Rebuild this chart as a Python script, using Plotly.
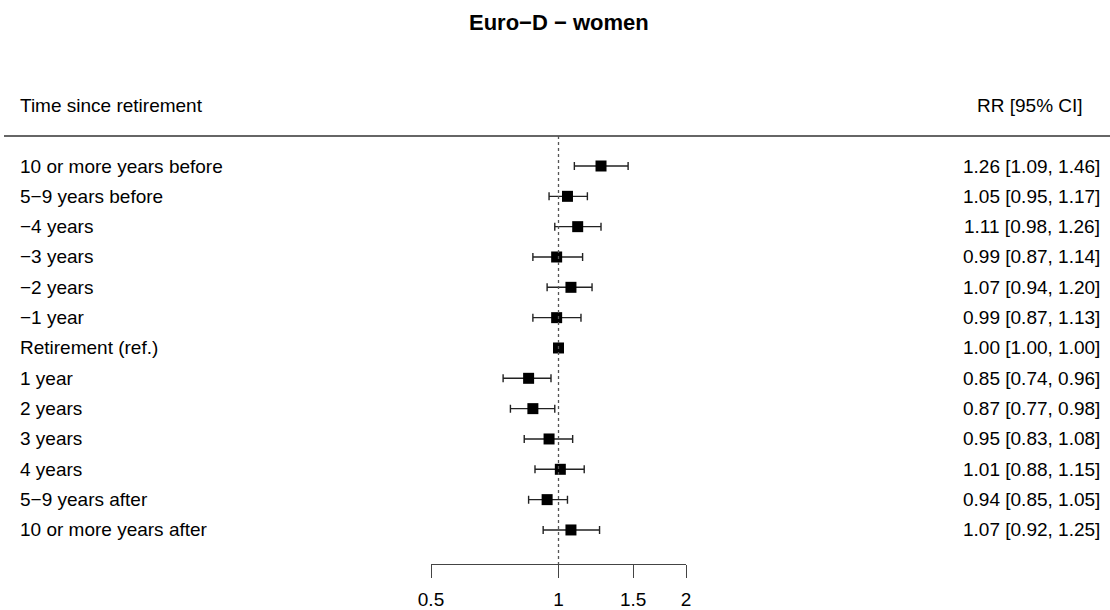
import math
import plotly.graph_objects as go

labels = ["10 or more years before", "5\u22129 years before", "\u22124 years", "\u22123 years",
          "\u22122 years", "\u22121 year", "Retirement (ref.)", "1 year", "2 years", "3 years",
          "4 years", "5\u22129 years after", "10 or more years after"]
rr = [1.26, 1.05, 1.11, 0.99, 1.07, 0.99, 1.00, 0.85, 0.87, 0.95, 1.01, 0.94, 1.07]
ci_lo = [1.09, 0.95, 0.98, 0.87, 0.94, 0.87, 1.00, 0.74, 0.77, 0.83, 0.88, 0.85, 0.92]
ci_hi = [1.46, 1.17, 1.26, 1.14, 1.20, 1.13, 1.00, 0.96, 0.98, 1.08, 1.15, 1.05, 1.25]
tick_vals = [0.5, 1, 1.5, 2]
tick_text = ["0.5", "1", "1.5", "2"]

W, H = 1110, 610
FONT = "Liberation Sans, Arial, sans-serif"
row0_px, row_step = 166.0, 30.33

rows = list(range(len(labels)))
fig = go.Figure()
fig.add_trace(go.Scatter(
    x=rr, y=rows, mode="markers",
    marker=dict(symbol="square", size=11, color="black", line=dict(width=0)),
    error_x=dict(type="data", symmetric=False,
                 array=[h - e for h, e in zip(ci_hi, rr)],
                 arrayminus=[e - l for e, l in zip(rr, ci_lo)],
                 color="#222222", thickness=1.4, width=4),
    hoverinfo="skip", showlegend=False))

ann = []
for k, (lab, e, l, h) in enumerate(zip(labels, rr, ci_lo, ci_hi)):
    ann.append(dict(x=18 / W, y=k, xref="paper", yref="y", text=lab, showarrow=False,
                    xanchor="left", yanchor="middle", font=dict(family=FONT, size=19, color="black")))
    ann.append(dict(x=1102 / W, y=k, xref="paper", yref="y", text=f"{e:.2f} [{l:.2f}, {h:.2f}]",
                    showarrow=False, xanchor="right", yanchor="middle",
                    font=dict(family=FONT, size=19, color="black")))
ann.append(dict(x=18 / W, y=-2, xref="paper", yref="y", text="Time since retirement", showarrow=False,
                xanchor="left", yanchor="middle", font=dict(family=FONT, size=19, color="black")))
ann.append(dict(x=1085 / W, y=-2, xref="paper", yref="y", text="RR [95% CI]", showarrow=False,
                xanchor="right", yanchor="middle", font=dict(family=FONT, size=19, color="black")))
ann.append(dict(x=559 / W, y=1 - 23 / H, xref="paper", yref="paper", text="<b>Euro\u2212D \u2212 women</b>",
                showarrow=False, xanchor="center", yanchor="middle",
                font=dict(family=FONT, size=22, color="black")))

shapes = [
    dict(type="line", xref="paper", yref="paper", x0=4 / W, x1=1.0, y0=1 - 136 / H, y1=1 - 136 / H,
         line=dict(color="#333333", width=1.3)),
    dict(type="line", xref="x", yref="paper", x0=1, x1=1, y0=1 - 136 / H, y1=1 - 564 / H,
         line=dict(color="#555555", width=1.3, dash="dot")),
]

y_top = (0 - row0_px) / row_step
y_bot = (H - row0_px) / row_step

fig.update_layout(
    width=W, height=H, autosize=False,
    margin=dict(l=0, r=0, t=0, b=0, pad=0, autoexpand=False),
    paper_bgcolor="white", plot_bgcolor="white",
    annotations=ann, shapes=shapes,
    xaxis=dict(type="log", domain=[431 / W, 686 / W], range=[math.log10(0.5), math.log10(2)],
               anchor="free", position=1 - 564 / H, automargin=False,
               showline=True, linecolor="#444444", linewidth=1.3,
               ticks="outside", ticklen=13, tickwidth=1.3, tickcolor="#444444",
               tickvals=tick_vals, ticktext=tick_text, ticklabelstandoff=5,
               tickfont=dict(family=FONT, size=19, color="black"),
               showgrid=False, zeroline=False, fixedrange=True),
    yaxis=dict(domain=[0, 1], range=[y_bot, y_top], visible=False, showgrid=False,
               zeroline=False, fixedrange=True, automargin=False),
)

fig.write_html("out.html", config={"responsive": False, "displayModeBar": False})
